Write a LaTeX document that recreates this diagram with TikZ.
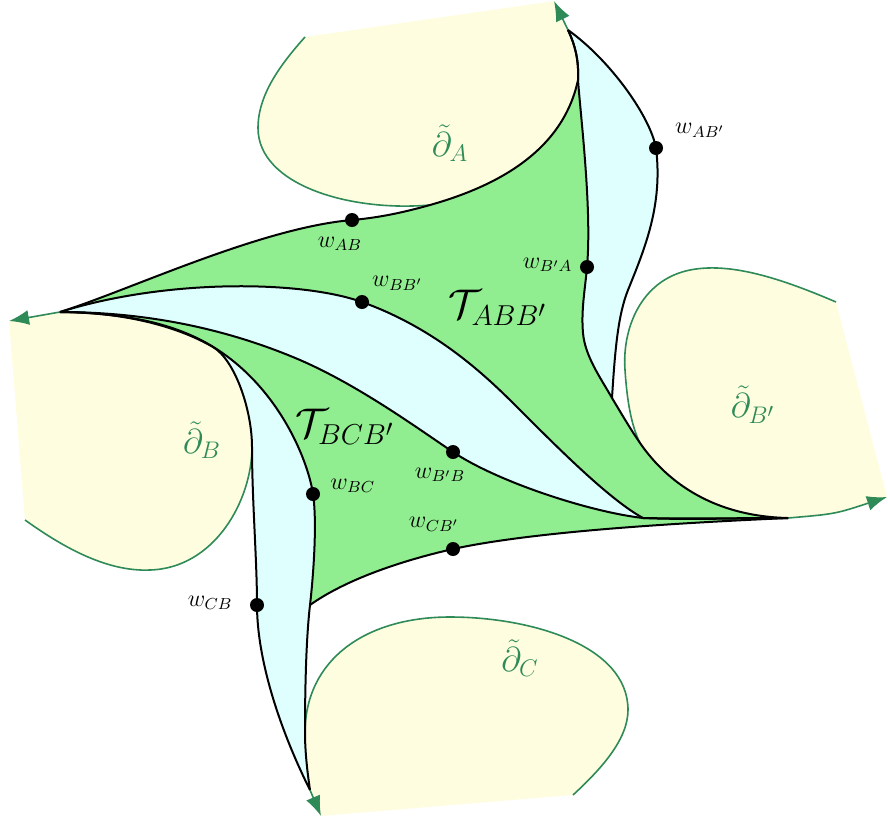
\documentclass[tikz,border=0pt]{standalone}
\usepackage{amsmath,amssymb}
\usepackage{tikz}
\usetikzlibrary{positioning,arrows.meta}
\definecolor{horoyellow}{RGB}{255,253,224}
\definecolor{horogreen}{RGB}{46,139,87}
\definecolor{trigreen}{RGB}{144,238,144}
\definecolor{stripcyan}{RGB}{223,255,255}

\begin{document}
\begin{tikzpicture}[
x=0.5pt, y=-0.5pt,
geo/.style={line width=1pt, black},
horo/.style={line width=0.8pt, horogreen},
horoarrow/.style={horo, -{Latex[length=10pt,width=7.5pt]}},
wpt/.style={circle, fill=black, inner sep=0pt, minimum size=7pt},
wlbl/.style={font=\large, inner sep=1pt},
horolbl/.style={font=\LARGE, text=horogreen},
trilbl/.style={font=\huge}
]
\useasboundingbox (0,0) rectangle (888,820);
\coordinate (pA) at (568,30);
\coordinate (pB) at (60,312);
\coordinate (pBp) at (788,518);
\coordinate (pC) at (310,790);
\coordinate (jA) at (612,398);
\coordinate (jC) at (310,605);

% horoballs
\fill[horoyellow] (430,205) .. controls (490,188) and (562,155) .. (578,80) .. controls (579,60) and (575,45) .. (pA) -- (554,1)
  -- (305,37) .. controls (280,65) and (258,95) .. (258,128) .. controls (258,185) and (350,212) .. (430,205) -- cycle;
\fill[horoyellow] (pB) .. controls (120,312) and (175,325) .. (213,347) .. controls (235,360) and (252,410) .. (252,447)
  .. controls (252,500) and (215,568) .. (150,570) .. controls (105,572) and (60,545) .. (25,520) -- (9,321) -- cycle;
\fill[horoyellow] (640,443) .. controls (658,469) and (700,516) .. (pBp) .. controls (835,514) .. (887,497) -- (836,302)
  .. controls (780,278) and (730,262) .. (690,270) .. controls (640,280) and (622,330) .. (625,370)
  .. controls (627,400) and (631,425) .. (640,443) -- cycle;
\fill[horoyellow] (pC) .. controls (307,770) and (305,750) .. (305,733)
  .. controls (305,660) and (365,617) .. (450,617) .. controls (530,617) and (628,645) .. (628,710)
  .. controls (628,740) and (600,770) .. (573,795) -- (321,816) -- cycle;

% triangles
\fill[trigreen] (pB) .. controls (130,290) and (260,228) .. (352,220) .. controls (380,217.6) and (405,212) .. (430,205)
  .. controls (490,188) and (562,155) .. (578,80) .. controls (579,60) and (575,45) .. (pA)
  .. controls (575,45) and (579,60) .. (578,80) .. controls (581,120) and (592,210) .. (587,267)
  .. controls (585,290) and (581,310) .. (583,333) .. controls (585,356) and (600,377) .. (jA)
  .. controls (621,413) and (631,430) .. (640,443) .. controls (658,469) and (700,516) .. (pBp)
  .. controls (740,518) and (690,519) .. (643,518) .. controls (610,500) and (560,450) .. (520,410)
  .. controls (490,380) and (440,330) .. (362,302) .. controls (300,280) and (165,279) .. (pB) -- cycle;
\fill[trigreen] (pB) .. controls (150,312) and (230,330) .. (300,360) .. controls (360,386) and (420,430) .. (453,452)
  .. controls (498,482) and (590,512) .. (643,518) .. controls (690,520) and (740,518) .. (pBp)
  .. controls (700,522) and (540,530) .. (453,549) .. controls (400,561) and (345,580) .. (jC)
  .. controls (314,570) and (317,520) .. (313,494) .. controls (308,460) and (278,385) .. (210,345)
  .. controls (170,321.5) and (120,313) .. (pB) -- cycle;

% strips
\fill[stripcyan] (pBp) .. controls (740,518) and (690,519) .. (643,518) .. controls (610,500) and (560,450) .. (520,410)
  .. controls (490,380) and (440,330) .. (362,302) .. controls (300,280) and (165,279) .. (pB)
  .. controls (150,312) and (230,330) .. (300,360) .. controls (360,386) and (420,430) .. (453,452)
  .. controls (498,482) and (590,512) .. (643,518) .. controls (690,520) and (740,518) .. (pBp) -- cycle;
\fill[stripcyan] (pC) .. controls (307,770) and (305,750) .. (305,733) .. controls (305,690) and (306,640) .. (jC)
  .. controls (314,570) and (317,520) .. (313,494) .. controls (308,460) and (278,385) .. (210,345)
  .. controls (170,321.5) and (120,313) .. (pB)
  .. controls (120,312) and (175,325) .. (213,347) .. controls (235,360) and (252,410) .. (252,447)
  .. controls (252,500) and (257,560) .. (257,605) .. controls (257,660) and (280,730) .. (pC) -- cycle;
\fill[stripcyan] (pA) .. controls (575,45) and (579,60) .. (578,80) .. controls (581,120) and (592,210) .. (587,267)
  .. controls (585,290) and (581,310) .. (583,333) .. controls (585,356) and (600,377) .. (jA)
  .. controls (615,350) and (618,315) .. (628,290) .. controls (645,248) and (663,205) .. (656,148)
  .. controls (650,116) and (610,60) .. (pA) -- cycle;

% horocycles
\draw[horo] (305,37) .. controls (280,65) and (258,95) .. (258,128) .. controls (258,185) and (350,212) .. (430,205);
\draw[horo] (252,447) .. controls (252,500) and (215,568) .. (150,570) .. controls (105,572) and (60,545) .. (25,520);
\draw[horo] (836,302) .. controls (780,278) and (730,262) .. (690,270) .. controls (640,280) and (622,330) .. (625,370)
  .. controls (627,400) and (631,425) .. (640,443);
\draw[horo] (305,733) .. controls (305,660) and (365,617) .. (450,617) .. controls (530,617) and (628,645) .. (628,710)
  .. controls (628,740) and (600,770) .. (573,795);
\draw[horoarrow] (pA) -- (554,1);
\draw[horoarrow] (pB) -- (9,321);
\draw[horoarrow] (pBp) .. controls (835,514) .. (887,497);
\draw[horoarrow] (pC) -- (321,816);

% geodesics
\draw[geo] (pB) .. controls (130,290) and (260,228) .. (352,220) .. controls (380,217.6) and (405,212) .. (430,205)
  .. controls (490,188) and (562,155) .. (578,80) .. controls (579,60) and (575,45) .. (pA);
\draw[geo] (pA) .. controls (575,45) and (579,60) .. (578,80) .. controls (581,120) and (592,210) .. (587,267)
  .. controls (585,290) and (581,310) .. (583,333) .. controls (585,356) and (600,377) .. (jA)
  .. controls (621,413) and (631,430) .. (640,443) .. controls (658,469) and (700,516) .. (pBp);
\draw[geo] (jA) .. controls (615,350) and (618,315) .. (628,290) .. controls (645,248) and (663,205) .. (656,148)
  .. controls (650,116) and (610,60) .. (pA);
\draw[geo] (pBp) .. controls (740,518) and (690,519) .. (643,518) .. controls (610,500) and (560,450) .. (520,410)
  .. controls (490,380) and (440,330) .. (362,302) .. controls (300,280) and (165,279) .. (pB);
\draw[geo] (pB) .. controls (150,312) and (230,330) .. (300,360) .. controls (360,386) and (420,430) .. (453,452)
  .. controls (498,482) and (590,512) .. (643,518) .. controls (690,520) and (740,518) .. (pBp);
\draw[geo] (pC) .. controls (307,770) and (305,750) .. (305,733) .. controls (305,690) and (306,640) .. (jC)
  .. controls (314,570) and (317,520) .. (313,494) .. controls (308,460) and (278,385) .. (210,345)
  .. controls (170,321.5) and (120,313) .. (pB);
\draw[geo] (pB) .. controls (120,312) and (175,325) .. (213,347) .. controls (235,360) and (252,410) .. (252,447)
  .. controls (252,500) and (257,560) .. (257,605) .. controls (257,660) and (280,730) .. (pC);
\draw[geo] (pBp) .. controls (700,522) and (540,530) .. (453,549) .. controls (400,561) and (345,580) .. (jC);

\node[wpt] (wAB) at (352,220) {};
\node[wpt] (wBBp) at (362,302) {};
\node[wpt] (wBpA) at (587,267) {};
\node[wpt] (wABp) at (656,148) {};
\node[wpt] (wBC) at (313,494) {};
\node[wpt] (wBpB) at (453,452) {};
\node[wpt] (wCBp) at (453,549) {};
\node[wpt] (wCB) at (257,605) {};
\node[wlbl, below=3.5pt of wAB, xshift=-6pt] (lAB) {$w_{AB}$};
\node[wlbl, above right=2pt and 1.3pt of wBBp] (lBBp) {$w_{BB'}$};
\node[wlbl, left=2.4pt of wBpA, yshift=1pt] (lBpA) {$w_{B'A}$};
\node[wlbl, above right=1.5pt and 5.8pt of wABp] (lABp) {$w_{AB'}$};
\node[wlbl, right=3.8pt of wBC, yshift=4pt] (lBC) {$w_{BC}$};
\node[wlbl, below=3pt of wBpB, xshift=-6.5pt] (lBpB) {$w_{B'B}$};
\node[wlbl, above=4pt of wCBp, xshift=-9.5pt] (lCBp) {$w_{CB'}$};
\node[wlbl, left=7.3pt of wCB, yshift=1pt] (lCB) {$w_{CB}$};

\node[horolbl] (dA) at (450,143) {$\tilde{\partial}_A$};
\node[horolbl] (dB) at (202,440) {$\tilde{\partial}_B$};
\node[horolbl] (dBp) at (753,405) {$\tilde{\partial}_{B'}$};
\node[horolbl] (dC) at (520,658) {$\tilde{\partial}_C$};
\node[trilbl] (tABB) at (498,308) {$\mathcal{T}_{ABB'}$};
\node[trilbl] (tBCB) at (345,427) {$\mathcal{T}_{BCB'}$};
\end{tikzpicture}
\end{document}
